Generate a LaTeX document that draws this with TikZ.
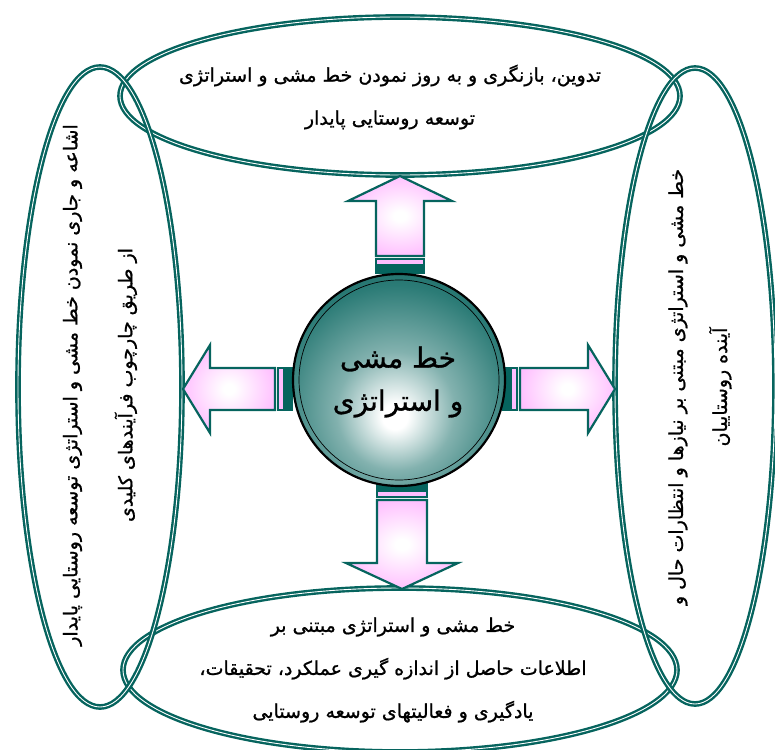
\documentclass[tikz,border=0pt]{standalone}
\usepackage{fontspec}
\newfontfamily\fa[Script=Arabic,FakeBold=1]{DejaVu Sans}
\TeXXeTstate=1
\usetikzlibrary{shapes.geometric}
\definecolor{tealc}{RGB}{6,100,94}
\definecolor{pinkc}{RGB}{255,190,255}
\pgfdeclareradialshading{sphere}{\pgfpoint{-1bp}{-9bp}}{color(0bp)=(white); color(3bp)=(white); color(14bp)=(tealc!50); color(28bp)=(tealc!85); color(44bp)=(tealc!80!black); color(75bp)=(tealc!75!black)}
\pgfdeclareradialshading{arrowsh}{\pgfpoint{0bp}{0bp}}{color(0bp)=(white); color(3bp)=(white); color(26bp)=(pinkc); color(75bp)=(pinkc)}
\newcommand\stripedarrow[6]{%
  \begin{scope}[shift={#1},rotate=#2]
    \draw[arrline,fill=tealc] (0,-#4) rectangle (6,#4);
    \draw[arrline,fill=pinkc] (8,-#4) rectangle (14,#4);
    \shadedraw[arrline,shading=arrowsh] (17,-#4) -- ({#3-#6},-#4) -- ({#3-#6},-#5) -- (#3,0) -- ({#3-#6},#5) -- ({#3-#6},#4) -- (17,#4) -- cycle;
  \end{scope}}
\begin{document}
\begin{tikzpicture}[x=1pt,y=-1pt,
  ring/.style={ellipse, draw=tealc, double=white, line width=2.4pt, double distance=0.9pt, inner sep=0pt, outer sep=0pt},
  arrline/.style={draw=tealc, line width=2.2pt, line join=miter},
  txt/.style={font=\fa\fontsize{19}{43}\selectfont, align=center, text=black, inner sep=0pt},
  coretxt/.style={font=\fa\fontsize{28}{43}\selectfont, align=center, text=black, inner sep=0pt}]
\useasboundingbox (0,0) rectangle (775,749);
% ellipses
\node[ring, minimum width=560pt, minimum height=158pt] (topE) at (400,96) {};
\node[ring, minimum width=554pt, minimum height=164pt] (botE) at (400,670) {};
\node[ring, minimum width=164pt, minimum height=640pt] (leftE) at (100,387) {};
\node[ring, minimum width=160pt, minimum height=636pt] (rightE) at (695,386) {};
% arrows
\stripedarrow{(400,273)}{90}{97}{24}{52}{25}
\stripedarrow{(402,483)}{270}{106}{25}{56}{26}
\stripedarrow{(292,389)}{180}{109}{21}{44}{27}
\stripedarrow{(503,389)}{0}{112}{21}{44}{27}
% core
\node[circle, minimum size=212pt, inner sep=0pt, draw=black, line width=2.2pt, shade, shading=sphere] (core) at (399,380) {};
\draw[black, line width=0.7pt] (core.center) circle (100pt);
\node[coretxt] (coretext) at (398,382) {\beginR خط مشی\endR\\\beginR و استراتژی\endR};
% texts
\node[txt] (toptext) at (390,97) {\beginR تدوین، بازنگری و به روز نمودن خط مشی و استراتژی\endR\\\beginR توسعه روستایی پایدار\endR};
\node[txt] (bottext) at (393,670) {\beginR خط مشی و استراتژی مبتنی بر\endR\\\beginR اطلاعات حاصل از اندازه گیری عملکرد، تحقیقات،\endR\\\beginR یادگیری و فعالیتهای توسعه روستایی\endR};
\node[txt, rotate=90, font=\fa\fontsize{19}{55}\selectfont] (lefttext) at (100,385) {\beginR اشاعه و جاری نمودن خط مشی و استراتژی توسعه روستایی پایدار\endR\\\beginR از طریق چارچوب فرآیندهای کلیدی\endR};
\node[txt, rotate=90, font=\fa\fontsize{19}{44}\selectfont] (righttext) at (700,387) {\beginR خط مشی و استراتژی مبتنی بر نیازها و انتظارات حال و\endR\\\beginR آینده روستاییان\endR};
\end{tikzpicture}
\end{document}
